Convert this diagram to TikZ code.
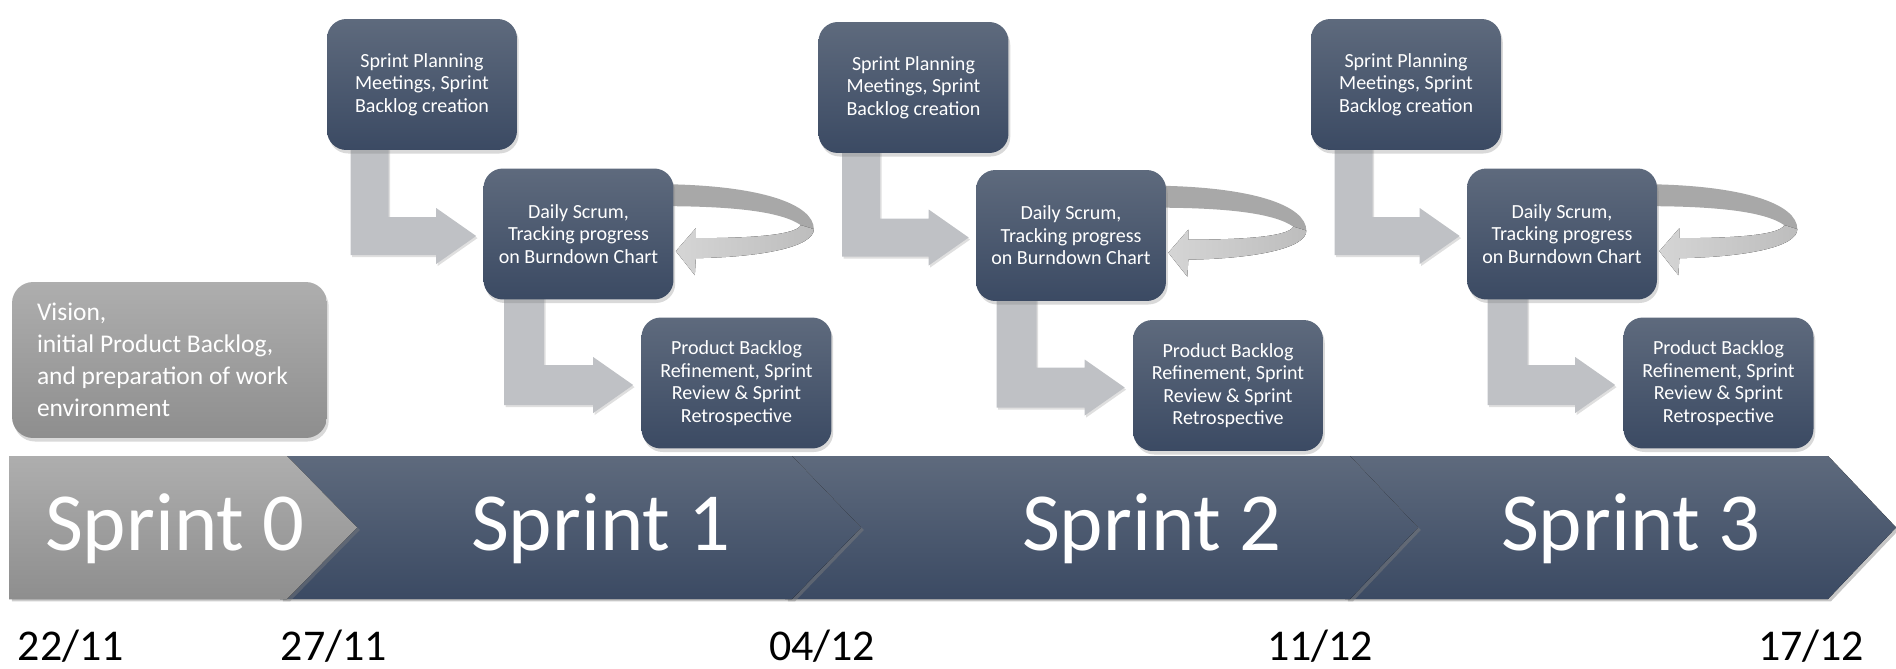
\documentclass[tikz,border=0pt]{standalone}
\usepackage{fontspec}
\setmainfont{Carlito}
\usetikzlibrary{shadows,calc}
\definecolor{boxtop}{HTML}{5E6A7D}
\definecolor{boxbot}{HTML}{3B4A63}
\definecolor{graytop}{HTML}{AEAEAE}
\definecolor{graybot}{HTML}{8E8E8E}
\definecolor{arrowgray}{HTML}{BFC1C5}
\definecolor{ringdark}{HTML}{A8A8A8}
\definecolor{ringlight}{HTML}{D5D5D5}
\definecolor{ringedge}{HTML}{BDBDBD}
\begin{document}
\begin{tikzpicture}[x=0.02cm,y=-0.02cm,
  stepbox/.style={rounded corners=11pt, top color=boxtop, bottom color=boxbot,
    minimum width=3.8cm, minimum height=2.62cm, inner sep=0pt, align=center,
    text=white, font=\fontsize{11.4}{12.8}\selectfont,
    drop shadow={shadow xshift=1pt, shadow yshift=-2pt, opacity=0.3}},
  visionbox/.style={rounded corners=12pt, top color=graytop, bottom color=graybot,
    minimum width=6.3cm, minimum height=3.12cm, inner xsep=0.5cm, inner ysep=0pt,
    text width=5.3cm, align=flush left, text=white, font=\fontsize{14.5}{18.2}\selectfont,
    drop shadow={shadow xshift=1pt, shadow yshift=-2pt, opacity=0.3}},
  bent/.style={fill=arrowgray, drop shadow={shadow xshift=0.8pt, shadow yshift=-1.2pt, opacity=0.25}},
  chev/.style={top color=boxtop, bottom color=boxbot,
    drop shadow={shadow xshift=1.6pt, shadow yshift=-1.4pt, opacity=0.45}},
  chevgray/.style={top color=graytop, bottom color=graybot,
    drop shadow={shadow xshift=1.6pt, shadow yshift=-1.4pt, opacity=0.4}},
  sprintlabel/.style={anchor=base, text=white, inner sep=0pt, font=\fontsize{47}{50}\selectfont},
  datelabel/.style={anchor=base, text=black, inner sep=0pt, font=\fontsize{25}{27}\selectfont}
]
\useasboundingbox (0,0) rectangle (1896,669);

% ---------------- timeline ----------------
\fill[chev] (1345,456) -- (1828,456) -- (1896,527.5) -- (1828,599) -- (1345,599) -- cycle;
\fill[chev] (785,456) -- (1350,456) -- (1418,527.5) -- (1350,599) -- (785,599) -- cycle;
\fill[chev] (280,456) -- (792,456) -- (861,527.5) -- (792,599) -- (280,599) -- cycle;
\fill[chevgray] (9,456) -- (287,456) -- (357,527.5) -- (287,599) -- (9,599) -- cycle;

\node[sprintlabel] (s0) at (175,550) {Sprint 0};
\node[sprintlabel] (s1) at (601,550) {Sprint 1};
\node[sprintlabel] (s2) at (1152,550) {Sprint 2};
\node[sprintlabel] (s3) at (1631,550) {Sprint 3};

\node[datelabel] (t0) at (71,660) {22/11};
\node[datelabel] (t1) at (334,660) {27/11};
\node[datelabel] (t2) at (822,660) {04/12};
\node[datelabel] (t3) at (1320,660) {11/12};
\node[datelabel] (t4) at (1811,660) {17/12};

% ---------------- vision box ----------------
\node[visionbox] (V) at (169.5,360) {Vision,\\initial Product Backlog,\\and preparation of work\\environment};

% ---------------- sprint activity groups ----------------
\foreach \k/\px/\py/\dx/\dy/\rx/\ry in {1/422/84.5/578.5/234/736.5/383, 2/913.5/87.5/1071/235.5/1228/385.5, 3/1406/84.5/1562/234/1718.5/383} {
  % invisible placement nodes for geometry
  \path (\px,\py) node[minimum width=3.8cm, minimum height=2.62cm, inner sep=0pt] (P\k) {};
  \path (\dx,\dy) node[minimum width=3.8cm, minimum height=2.62cm, inner sep=0pt] (D\k) {};
  \path (\rx,\ry) node[minimum width=3.8cm, minimum height=2.62cm, inner sep=0pt] (R\k) {};
  % bent arrow planning -> daily
  \coordinate (a\k) at ($(P\k.south west)+(24,-10)$);
  \coordinate (h\k) at ($(D\k.west)+(-7,2)$);
  \fill[bent] (a\k) -- ++(38,0) |- ($(h\k)+(-40,-19)$) -- ++(0,-9) -- (h\k)
     -- ++(-40,28) -- ++(0,-9) -| (a\k) -- cycle;
  % bent arrow daily -> review
  \coordinate (b\k) at ($(D\k.south west)+(21,-10)$);
  \coordinate (g\k) at ($(R\k.west)+(-8,2)$);
  \fill[bent] (b\k) -- ++(40,0) |- ($(g\k)+(-40,-20)$) -- ++(0,-8) -- (g\k)
     -- ++(-40,28) -- ++(0,-8) -| (b\k) -- cycle;
  % loop arrow on daily scrum
  \begin{scope}[shift={(D\k.north east)}]
    \fill[ringdark] (-12,16) .. controls (87,17) and (140,36) .. (140,61)
       -- (127,57) .. controls (107,43) and (57,38) .. (-12,38) -- cycle;
    \fill[left color=ringlight, right color=ringedge] (140,61) .. controls (140,79) and (87,89) .. (22,90)
       -- (21,107) -- (2,83) -- (22,60) -- (22,70) .. controls (77,70) and (122,67) .. (127,57) -- cycle;
  \end{scope}
  % boxes
  \node[stepbox] (plan\k) at (P\k) {Sprint Planning\\Meetings, Sprint\\Backlog creation};
  \node[stepbox] (daily\k) at (D\k) {Daily Scrum,\\Tracking progress\\on Burndown Chart};
  \node[stepbox] (rev\k) at (R\k) {Product Backlog\\Refinement, Sprint\\Review \& Sprint\\Retrospective};
}
\end{tikzpicture}
\end{document}
